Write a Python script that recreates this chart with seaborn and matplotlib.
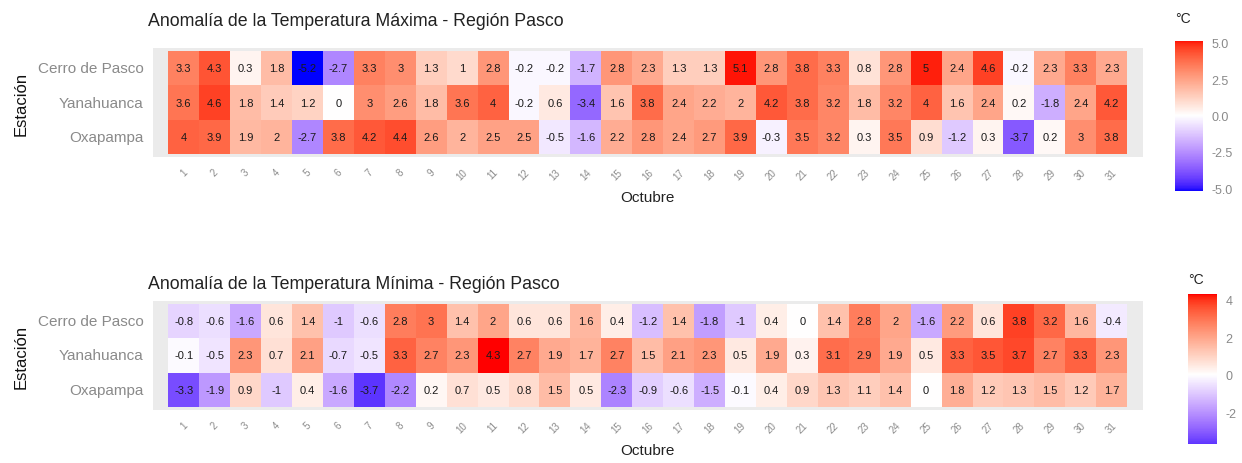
import numpy as np
import pandas as pd
import matplotlib
matplotlib.use("Agg")
import matplotlib.pyplot as plt
import matplotlib.colors as mcolors
import seaborn as sns

# Datos de anomalias (Octubre, dias 1-31)
estaciones = ["Cerro de Pasco", "Yanahuanca", "Oxapampa"]
dias = list(range(1, 32))

tmax_cerro = [3.3, 4.3, 0.3, 1.8, -5.2, -2.7, 3.3, 3, 1.3, 1, 2.8, -0.2, -0.2, -1.7, 2.8, 2.3,
              1.3, 1.3, 5.1, 2.8, 3.8, 3.3, 0.8, 2.8, 5.0, 2.4, 4.6, -0.2, 2.3, 3.3, 2.3]
tmax_yana = [3.6, 4.6, 1.8, 1.4, 1.2, 0, 3, 2.6, 1.8, 3.6, 4, -0.2, 0.6, -3.4, 1.6, 3.8,
             2.4, 2.2, 2, 4.2, 3.8, 3.2, 1.8, 3.2, 4, 1.6, 2.4, 0.2, -1.8, 2.4, 4.2]
tmax_oxa = [4, 3.9, 1.9, 2, -2.7, 3.8, 4.2, 4.4, 2.6, 2, 2.5, 2.5, -0.5, -1.6, 2.2, 2.8,
            2.4, 2.7, 3.9, -0.3, 3.5, 3.2, 0.3, 3.5, 0.9, -1.2, 0.3, -3.7, 0.2, 3, 3.8]

tmin_cerro = [-0.8, -0.6, -1.6, 0.6, 1.4, -1, -0.6, 2.8, 3, 1.4, 2, 0.6, 0.6, 1.6, 0.4, -1.2,
              1.4, -1.8, -1, 0.4, 0, 1.4, 2.8, 2, -1.6, 2.2, 0.6, 3.8, 3.2, 1.6, -0.4]
tmin_yana = [-0.1, -0.5, 2.3, 0.7, 2.1, -0.7, -0.5, 3.3, 2.7, 2.3, 4.3, 2.7, 1.9, 1.7, 2.7, 1.5,
             2.1, 2.3, 0.5, 1.9, 0.3, 3.1, 2.9, 1.9, 0.5, 3.3, 3.5, 3.7, 2.7, 3.3, 2.3]
tmin_oxa = [-3.3, -1.9, 0.9, -1, 0.4, -1.6, -3.7, -2.2, 0.2, 0.7, 0.5, 0.8, 1.5, 0.5, -2.3, -0.9,
            -0.6, -1.5, -0.1, 0.4, 0.9, 1.3, 1.1, 1.4, 0, 1.8, 1.2, 1.3, 1.5, 1.2, 1.7]

df_max = pd.DataFrame([tmax_cerro, tmax_yana, tmax_oxa], index=estaciones, columns=dias)
df_min = pd.DataFrame([tmin_cerro, tmin_yana, tmin_oxa], index=estaciones, columns=dias)

# Escala azul-blanco-rojo interpolada en Lab (como scale_fill_gradient2)
M_RGB = np.array([[0.4124, 0.3576, 0.1805], [0.2126, 0.7152, 0.0722], [0.0193, 0.1192, 0.9505]])
WHITE = np.array([0.95047, 1.0, 1.08883])


def to_lab(c):
    rgb = np.array(mcolors.to_rgb(c))
    lin = np.where(rgb <= 0.04045, rgb / 12.92, ((rgb + 0.055) / 1.055) ** 2.4)
    xyz = M_RGB @ lin / WHITE
    f = np.where(xyz > 0.008856, np.cbrt(xyz), 7.787 * xyz + 16 / 116)
    return np.array([116 * f[1] - 16, 500 * (f[0] - f[1]), 200 * (f[1] - f[2])])


def from_lab(lab):
    fy = (lab[0] + 16) / 116
    f = np.array([fy + lab[1] / 500, fy, fy - lab[2] / 200])
    xyz = np.where(f ** 3 > 0.008856, f ** 3, (f - 16 / 116) / 7.787) * WHITE
    lin = np.clip(np.linalg.inv(M_RGB) @ xyz, 0, None)
    rgb = np.where(lin <= 0.0031308, 12.92 * lin, 1.055 * lin ** (1 / 2.4) - 0.055)
    return np.clip(rgb, 0, 1)


lo_c, mid_c, hi_c = to_lab("blue"), to_lab("white"), to_lab("red")
cols = []
for t in np.linspace(0, 1, 256):
    if t < 0.5:
        cols.append(from_lab(lo_c + (mid_c - lo_c) * t / 0.5))
    else:
        cols.append(from_lab(mid_c + (hi_c - mid_c) * (t - 0.5) / 0.5))
cmap = mcolors.ListedColormap(cols)

sns.set_style("white")
plt.rcParams["font.family"] = ["Liberation Sans", "DejaVu Sans"]

fig = plt.figure(figsize=(12.42, 4.64), dpi=100)


def panel(df, titulo, ax_rect, cax_rect, ticks, ticklabels, tpad, cpad):
    ax = fig.add_axes(ax_rect)
    cax = fig.add_axes(cax_rect)
    lim = np.abs(df.values).max()
    sns.heatmap(df, ax=ax, cbar_ax=cax, cmap=cmap, vmin=-lim, vmax=lim,
                annot=True, fmt="g", annot_kws={"size": 8, "color": "#1a1a1a"},
                linewidths=0)
    ax.set_facecolor("#EBEBEB")
    ax.set_xlim(-0.5, len(dias) + 0.5)
    ax.set_ylim(3.1, -0.1)
    ax.set_title(titulo, loc="left", fontsize=12.8, color="#222222", pad=tpad, x=-0.005)
    ax.set_xlabel("Octubre", fontsize=11, color="#222222", labelpad=6)
    ax.set_ylabel("Estación", fontsize=12, color="#111111", labelpad=7)
    ax.tick_params(axis="x", length=3, color="#888888", labelsize=7, labelcolor="#8a8a8a",
                   rotation=45)
    ax.tick_params(axis="y", length=3, color="#888888", labelsize=11, labelcolor="#8a8a8a",
                   rotation=0)
    for s in ax.spines.values():
        s.set_visible(False)

    cb = ax.collections[0].colorbar
    cb.ax.set_ylim(df.values.min(), df.values.max())
    cb.set_ticks(ticks)
    cb.set_ticklabels(ticklabels)
    cb.ax.tick_params(length=0, labelsize=9, labelcolor="#8a8a8a", pad=6)
    cb.outline.set_visible(False)
    cb.ax.set_title("°C", fontsize=10, color="#222222", loc="left", pad=cpad)
    return ax


panel(df_max, "Anomalía de la Temperatura Máxima - Región Pasco",
      [0.123, 0.6586, 0.797, 0.2366], [0.946, 0.586, 0.0225, 0.323],
      [-5, -2.5, 0, 2.5, 5], ["-5.0", "-2.5", "0.0", "2.5", "5.0"], 16, 14)
panel(df_min, "Anomalía de la Temperatura Mínima - Región Pasco",
      [0.123, 0.1134, 0.797, 0.2366], [0.9565, 0.041, 0.0233, 0.323],
      [-2, 0, 2, 4], ["-2", "0", "2", "4"], 9, 8)

fig.savefig("out.png", dpi=100)
